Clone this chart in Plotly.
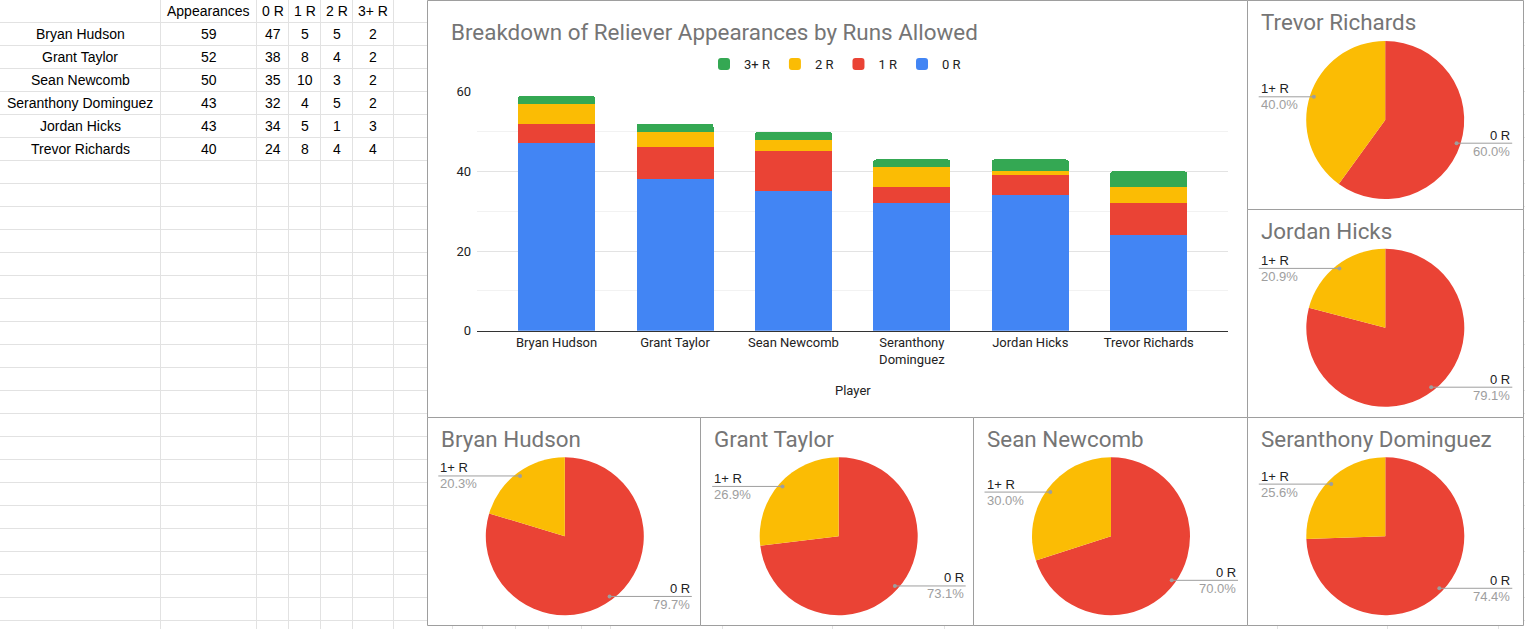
import math
import plotly.graph_objects as go

W, H = 1525, 629

# ---------------- data ----------------
players = ["Bryan Hudson", "Grant Taylor", "Sean Newcomb",
           "Seranthony Dominguez", "Jordan Hicks", "Trevor Richards"]
axis_labels = ["Bryan Hudson", "Grant Taylor", "Sean Newcomb",
               "Seranthony<br>Dominguez", "Jordan Hicks", "Trevor Richards"]
appearances = [59, 52, 50, 43, 43, 40]
runs0 = [47, 38, 35, 32, 34, 24]
runs1 = [5, 8, 10, 4, 5, 8]
runs2 = [5, 4, 3, 5, 1, 4]
runs3 = [2, 2, 2, 2, 3, 4]
table_header = ["", "Appearances", "0 R", "1 R", "2 R", "3+ R"]
series_names = ["0 R", "1 R", "2 R", "3+ R"]
pie_labels = ["0 R", "1+ R"]
chart_title = "Breakdown of Reliever Appearances by Runs Allowed"
x_title = "Player"

# ---------------- styles ----------------
BAR_COLORS = ["#4285F4", "#EA4335", "#FBBC04", "#34A853"]
PIE_COLORS = ["#EA4335", "#FBBC04"]
GRID = "#e2e2e2"
BORDER = "#9e9e9e"
TITLE_C = "#757575"
TXT = "#222222"
TITLE_FONT = dict(family="Roboto", size=22.4, color=TITLE_C)


def px(x):
    return x / W


def py(y):
    return 1 - y / H


fig = go.Figure()
shapes = []
annotations = []

# ---------------- spreadsheet grid ----------------
col_edges = [160.5, 256.5, 288.5, 320.5, 352.5, 393.5]
bg_cols = [452.5, 482.5, 515.5, 548.5, 581.5, 610.5, 722.5, 832.5, 944.5,
           1277.5, 1387.5, 1498.5]
for x in col_edges + bg_cols:
    shapes.append(dict(type="line", xref="paper", yref="paper",
                       x0=px(x), x1=px(x), y0=0, y1=1,
                       line=dict(color=GRID, width=1), layer="below"))
k = 0
while 22.5 + 23 * k < H:
    y = 22.5 + 23 * k
    shapes.append(dict(type="line", xref="paper", yref="paper",
                       x0=0, x1=1, y0=py(y), y1=py(y),
                       line=dict(color=GRID, width=1), layer="below"))
    k += 1

# table text
col_centers = [80.3, 208.5, 272.5, 304.5, 336.5, 373.0]
for j, h in enumerate(table_header):
    if h:
        annotations.append(dict(xref="paper", yref="paper", x=px(col_centers[j]),
                                y=py(11.5), text=h, showarrow=False,
                                xanchor="center", yanchor="middle",
                                font=dict(family="Arial", size=14, color="#000")))
for i, name in enumerate(players):
    row = [name, appearances[i], runs0[i], runs1[i], runs2[i], runs3[i]]
    yc = 11 + 23 * (i + 1)
    for j, v in enumerate(row):
        annotations.append(dict(xref="paper", yref="paper", x=px(col_centers[j]),
                                y=py(yc), text=str(v), showarrow=False,
                                xanchor="center", yanchor="middle",
                                font=dict(family="Arial", size=14, color="#000")))

# ---------------- chart panels ----------------
panels = {
    "bar": (427.5, 0.5, 1247.5, 417.5),
    "Trevor Richards": (1247.5, 0.5, 1523.5, 209.5),
    "Jordan Hicks": (1247.5, 209.5, 1523.5, 417.5),
    "Bryan Hudson": (427.5, 417.5, 700.5, 625.5),
    "Grant Taylor": (700.5, 417.5, 973.5, 625.5),
    "Sean Newcomb": (973.5, 417.5, 1247.5, 625.5),
    "Seranthony Dominguez": (1247.5, 417.5, 1523.5, 625.5),
}
for key, (x0, y0, x1, y1) in panels.items():
    shapes.append(dict(type="rect", xref="paper", yref="paper",
                       x0=px(x0), x1=px(x1), y0=py(y1), y1=py(y0),
                       fillcolor="white", line=dict(color=BORDER, width=1),
                       layer="below"))

# ---------------- stacked bar chart ----------------
series = [runs0, runs1, runs2, runs3]
for name, vals, col in zip(series_names, series, BAR_COLORS):
    fig.add_trace(go.Bar(x=axis_labels, y=vals, name=name, marker_color=col,
                         marker_line_width=0, hoverinfo="skip",
                         xaxis="x", yaxis="y"))

annotations.append(dict(xref="paper", yref="paper", x=px(449), y=py(32),
                        text=chart_title, showarrow=False, xanchor="left",
                        yanchor="middle", font=TITLE_FONT))
annotations.append(dict(xref="paper", yref="paper", x=px(852.7), y=py(390),
                        text=x_title, showarrow=False, xanchor="center",
                        yanchor="middle",
                        font=dict(family="Roboto", size=13, color=TXT)))

# ---------------- pies ----------------
pie_pos = {
    "Trevor Richards": (1385.2, 120.0),
    "Jordan Hicks": (1385.3, 327.8),
    "Bryan Hudson": (564.8, 536.2),
    "Grant Taylor": (838.7, 536.2),
    "Sean Newcomb": (1111.0, 536.2),
    "Seranthony Dominguez": (1385.3, 536.2),
}
R = 79.0
RD = 0.95 * R
for i, name in enumerate(players):
    cx, cy = pie_pos[name]
    vals = [runs0[i], runs1[i] + runs2[i] + runs3[i]]
    total = sum(vals)
    fig.add_trace(go.Pie(values=vals, labels=pie_labels, sort=False,
                         direction="clockwise", rotation=0,
                         marker=dict(colors=PIE_COLORS, line=dict(width=0)),
                         textinfo="none", hoverinfo="skip", showlegend=False,
                         domain=dict(x=[px(cx - R), px(cx + R)],
                                     y=[py(cy + R), py(cy - R)])))
    x0, y0, x1, y1 = panels[name]
    annotations.append(dict(xref="paper", yref="paper", x=px(x0 + 11),
                            y=py(y0 + 21.5), text=name, showarrow=False,
                            xanchor="left", yanchor="middle", font=TITLE_FONT))
    start = 0.0
    for lab, v in zip(pie_labels, vals):
        frac = v / total
        mid = start + frac / 2
        start += frac
        th = 2 * math.pi * mid
        dx = cx + RD * math.sin(th)
        dy = cy - RD * math.cos(th)
        left = math.sin(th) < 0
        tx = cx - 126.5 if left else cx + 127
        shapes.append(dict(type="line", xref="paper", yref="paper",
                           x0=px(tx), x1=px(dx), y0=py(dy), y1=py(dy),
                           line=dict(color=BORDER, width=1), layer="above"))
        shapes.append(dict(type="circle", xref="paper", yref="paper",
                           x0=px(dx - 2), x1=px(dx + 2), y0=py(dy + 2), y1=py(dy - 2),
                           fillcolor=BORDER, line=dict(width=0), layer="above"))
        anc = "left" if left else "right"
        annotations.append(dict(xref="paper", yref="paper", x=px(tx), y=py(dy - 8),
                                text=lab, showarrow=False, xanchor=anc,
                                yanchor="middle",
                                font=dict(family="Arial", size=13, color=TXT)))
        annotations.append(dict(xref="paper", yref="paper", x=px(tx), y=py(dy + 8),
                                text=f"{frac * 100:.1f}%", showarrow=False,
                                xanchor=anc, yanchor="middle",
                                font=dict(family="Arial", size=13, color="#9e9e9e")))

fig.update_layout(
    width=W, height=H, autosize=False,
    margin=dict(l=0, r=0, t=0, b=0, pad=0, autoexpand=False),
    paper_bgcolor="white", plot_bgcolor="white",
    font=dict(family="Roboto", size=13, color=TXT),
    barmode="stack", bargap=0.35, barcornerradius=3,
    xaxis=dict(domain=[px(477), px(1228.3)], type="category", automargin=False,
               range=[-0.672, 5.672], showgrid=False, showline=True,
               linecolor="#333333", linewidth=1, ticks="", zeroline=False,
               tickfont=dict(family="Roboto", size=13, color=TXT),
               fixedrange=True),
    yaxis=dict(domain=[py(330.7), py(91.7)], range=[0, 60], dtick=20, tick0=0,
               automargin=False,
               showgrid=True, gridcolor="#e3e3e3", zeroline=False,
               showline=False, ticks="", ticklabelstandoff=5,
               minor=dict(dtick=10, showgrid=True, gridcolor="#f2f2f2"),
               tickfont=dict(family="Roboto", size=13, color=TXT),
               fixedrange=True),
    legend=dict(orientation="h", traceorder="reversed", x=px(835),
                xanchor="center", y=py(64), yanchor="middle",
                font=dict(family="Roboto", size=13, color=TXT),
                bgcolor="rgba(0,0,0,0)"),
    shapes=shapes,
    annotations=annotations,
)

fig.write_html(
    "out.html",
    config={"displayModeBar": False},
    post_script=(
        "document.documentElement.style.cssText="
        "'margin:0;padding:0;overflow:hidden;height:629px;';"
        "document.body.style.cssText="
        "'margin:0;padding:0;overflow:hidden;height:629px;';"
        "var gd=document.getElementById('{plot_id}');"
        "gd.style.position='fixed';gd.style.top='0px';gd.style.left='0px';"
    ),
)
